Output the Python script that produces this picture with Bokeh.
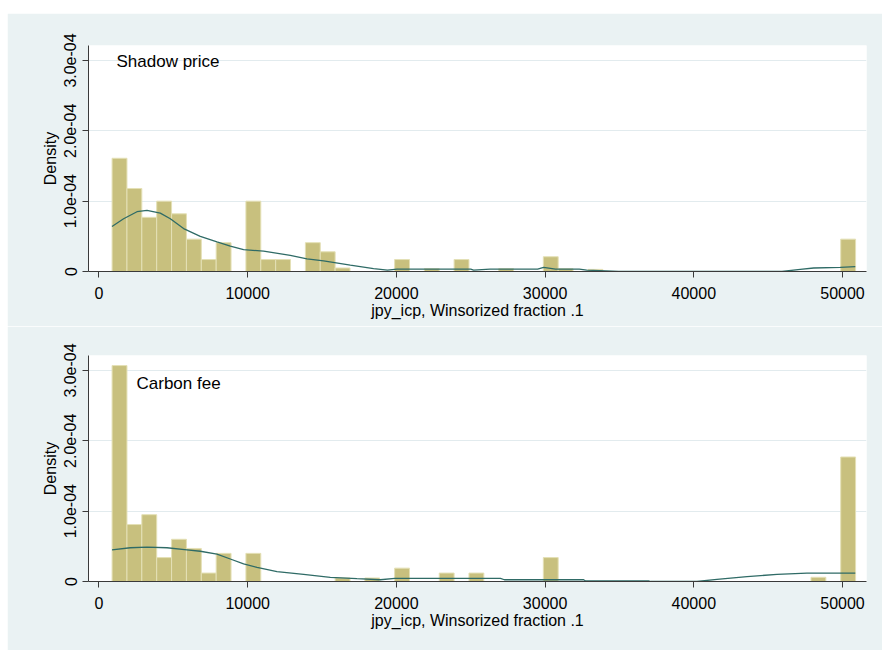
import numpy as np
from bokeh.plotting import figure
from bokeh.models import Range1d, FixedTicker, Label, Spacer, ColumnDataSource
from bokeh.layouts import column, row
from bokeh.embed import file_html
from bokeh.resources import INLINE

# ---- data ----
bin_start = 880
bin_width = 1000
n_bins = 50

# densities (x 1e-4) per bin, top panel: Shadow price
shadow_density = [1.61, 1.18, 0.77, 1.00, 0.82, 0.46, 0.17, 0.41, 0.00, 1.00,
                  0.17, 0.17, 0.00, 0.41, 0.28, 0.05, 0.00, 0.00, 0.00, 0.17,
                  0.00, 0.04, 0.00, 0.17, 0.00, 0.00, 0.04, 0.00, 0.00, 0.21,
                  0.04, 0.00, 0.03, 0.00, 0.00, 0.00, 0.00, 0.00, 0.00, 0.00,
                  0.00, 0.00, 0.00, 0.00, 0.00, 0.00, 0.00, 0.00, 0.00, 0.46]

# densities (x 1e-4) per bin, bottom panel: Carbon fee
carbon_density = [3.07, 0.81, 0.95, 0.34, 0.60, 0.47, 0.12, 0.40, 0.00, 0.40,
                  0.00, 0.00, 0.00, 0.00, 0.00, 0.05, 0.00, 0.05, 0.00, 0.19,
                  0.00, 0.00, 0.12, 0.00, 0.12, 0.00, 0.00, 0.00, 0.00, 0.34,
                  0.00, 0.00, 0.00, 0.00, 0.00, 0.00, 0.00, 0.00, 0.00, 0.00,
                  0.00, 0.00, 0.00, 0.00, 0.00, 0.00, 0.00, 0.06, 0.00, 1.77]

# kernel density curves (x, density x 1e-4)
shadow_kde_x = [874, 1655, 2555, 3228, 4122, 4795, 5690, 6812, 7935, 8830, 9724,
                11070, 12865, 13987, 15104, 16900, 18467, 19400, 20040, 25000,
                25190, 26300, 29500, 29900, 30700, 32300, 32800, 34940, 45930,
                47160, 48060, 49850, 50860]
shadow_kde_y = [0.64, 0.75, 0.85, 0.87, 0.83, 0.75, 0.61, 0.50, 0.42, 0.36, 0.31,
                0.29, 0.23, 0.18, 0.15, 0.09, 0.04, 0.02, 0.035, 0.035,
                0.02, 0.035, 0.035, 0.06, 0.035, 0.035, 0.02, 0.0, 0.0,
                0.03, 0.05, 0.06, 0.07]

carbon_kde_x = [874, 2105, 3228, 4573, 5918, 6812, 7935, 8830, 9724, 10625, 11970,
                13760, 15555, 17350, 18917, 19900, 27000, 27260, 32590, 32700,
                36960, 37100, 40210, 41560, 43580, 45600, 47610, 50860]
carbon_kde_y = [0.45, 0.48, 0.49, 0.48, 0.45, 0.43, 0.39, 0.32, 0.25, 0.20, 0.14,
                0.10, 0.06, 0.04, 0.025, 0.045, 0.045, 0.025, 0.025, 0.01,
                0.01, 0.0, 0.0, 0.03, 0.07, 0.10, 0.12, 0.12]

x_ticks = [0, 10000, 20000, 30000, 40000, 50000]
y_ticks = [0, 1e-4, 2e-4, 3e-4]
y_tick_labels = ["0", "1.0e-04", "2.0e-04", "3.0e-04"]
x_title = "jpy_icp, Winsorized fraction .1"
y_title = "Density"

# ---- style ----
FONT = "Liberation Sans"
BG = "#EAF2F3"
GRID = "#E2EBEE"
BAR_FILL = "#C8C07E"
BAR_LINE = "#E4E0B6"
KDE_COLOR = "#2F6B66"
AXIS = "#3A3A3A"

W = 875


def panel(dens, kx, ky, text, tx, ty, height, btop, bbottom):
    p = figure(width=W, height=height, output_backend="svg", toolbar_location=None,
               x_range=Range1d(-706, 51614), y_range=Range1d(0, 3.213e-4),
               min_border_left=81, min_border_right=16,
               min_border_top=btop, min_border_bottom=bbottom,
               tools="")
    p.background_fill_color = "white"
    p.border_fill_color = BG
    p.outline_line_color = None

    edges = bin_start + bin_width * np.arange(n_bins + 1)
    d = np.array(dens) * 1e-4
    mask = d > 0
    src = ColumnDataSource(dict(left=edges[:-1][mask], right=edges[1:][mask],
                                top=d[mask], bottom=np.zeros(mask.sum())))
    p.quad(left="left", right="right", top="top", bottom="bottom", source=src,
           fill_color=BAR_FILL, line_color=BAR_LINE, line_width=1)
    p.line(kx, np.array(ky) * 1e-4, line_color=KDE_COLOR, line_width=1.3)

    p.xgrid.visible = False
    p.ygrid.ticker = FixedTicker(ticks=y_ticks)
    p.ygrid.grid_line_color = GRID
    p.ygrid.grid_line_width = 1

    p.xaxis.ticker = FixedTicker(ticks=x_ticks)
    p.yaxis.ticker = FixedTicker(ticks=y_ticks)
    p.yaxis.major_label_overrides = {t: l for t, l in zip(y_ticks, y_tick_labels)}
    p.yaxis.major_label_orientation = "vertical"
    p.xaxis.axis_label = x_title
    p.yaxis.axis_label = y_title
    for ax in (p.xaxis, p.yaxis):
        ax.axis_line_color = AXIS
        ax.major_tick_line_color = AXIS
        ax.major_tick_in = 0
        ax.major_tick_out = 6
        ax.minor_tick_line_color = None
        ax.major_label_text_font = FONT
        ax.major_label_text_font_size = "16px"
        ax.major_label_text_color = "black"
        ax.axis_label_text_font = FONT
        ax.axis_label_text_font_size = "16px"
        ax.axis_label_text_font_style = "normal"
        ax.axis_label_text_color = "black"
    p.xaxis.major_label_standoff = 9
    p.xaxis.axis_label_standoff = 0
    p.yaxis.major_label_standoff = 6
    p.yaxis.axis_label_standoff = 3

    p.add_layout(Label(x=tx, y=ty, text=text, text_font=FONT, text_font_size="17px",
                       text_color="black", text_baseline="alphabetic", text_align="left"))
    return p


top = panel(shadow_density, shadow_kde_x, shadow_kde_y, "Shadow price", 1177, 2.98e-4,
            313, 32, 55)
bottom = panel(carbon_density, carbon_kde_x, carbon_kde_y, "Carbon fee", 2522, 2.81e-4,
               324, 29, 69)

layout = row(Spacer(width=7, height=650),
             column(Spacer(width=W, height=13), top, bottom, spacing=0),
             spacing=0)
open("out.html", "w").write(file_html(layout, INLINE))
